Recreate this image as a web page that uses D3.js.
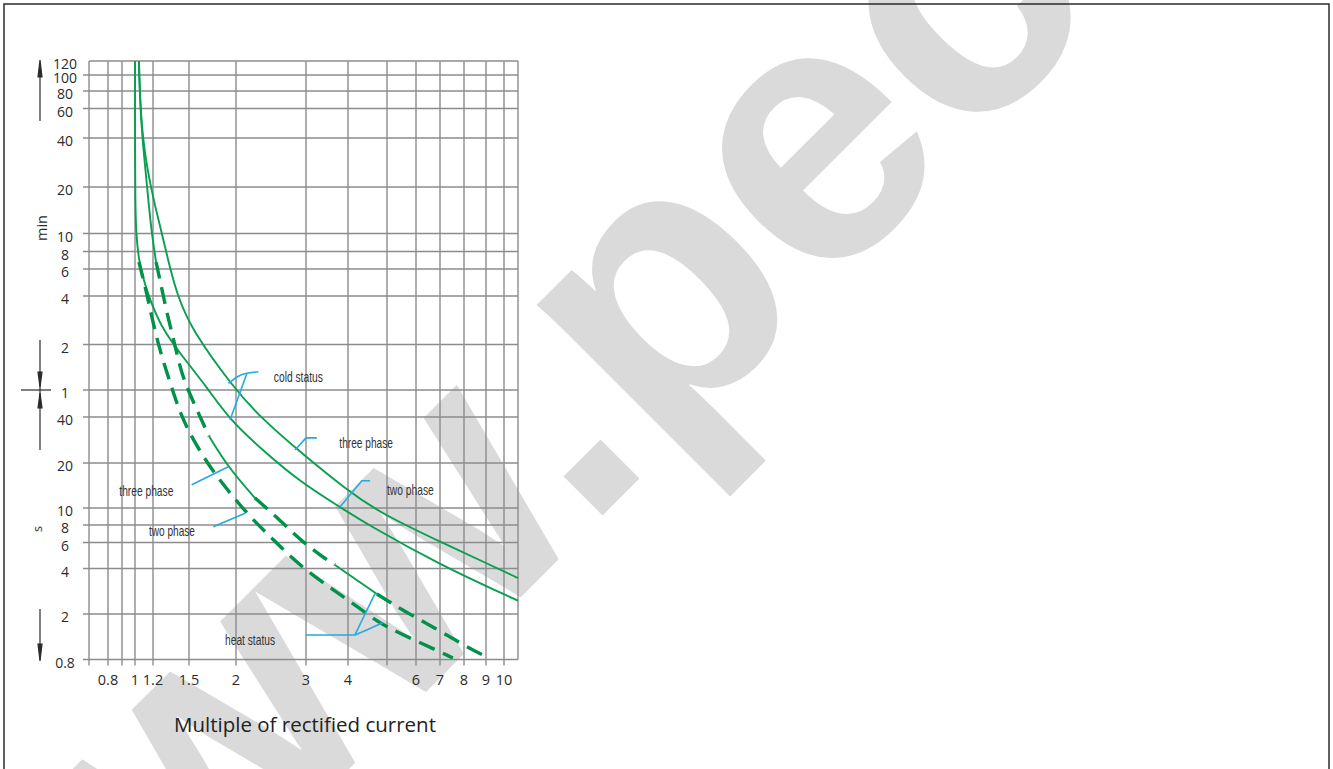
<!DOCTYPE html>
<html>
<head>
<meta charset="utf-8">
<script src="https://cdn.jsdelivr.net/npm/d3@7"></script>
<style>
  body { margin: 0; background: #fff; }
  svg { display: block; }
</style>
</head>
<body>
<svg id="chart" width="1333" height="769"></svg>
<script>
// grid values of the two log axes: multiple of rated current, time in seconds
const xGrid = [0.7, 0.8, 0.9, 1, 1.2, 1.5, 2, 3, 4, 5, 6, 7, 8, 9, 10, 11];
const xLabels = [0.8, 1, 1.2, 1.5, 2, 3, 4, 6, 7, 8, 9, 10];
const yGrid = [0.8, 2, 4, 6, 8, 10, 20, 40, 60, 120, 240, 360, 480, 600, 1200, 2400, 3600, 4800, 6000, 7200];

// trip curves, [multiple, seconds]
const coldThree = [[1.04, 7200], [1.052, 4100], [1.084, 2330], [1.135, 1530], [1.204, 990], [1.267, 606],
  [1.333, 366], [1.401, 237], [1.525, 148], [1.963, 62.8], [2.30, 40], [2.90, 23.6], [3.97, 13.2],
  [4.80, 9.37], [7.28, 5.77], [9.0, 4.36], [11, 3.46]];
const coldTwo = [[1.0, 7200], [1.0, 2025], [1.003, 990], [1.01, 606], [1.041, 404], [1.107, 283],
  [1.188, 211], [1.277, 148], [1.418, 105], [1.672, 62.8], [1.928, 38.2], [2.30, 25.1], [2.90, 14.9],
  [3.79, 10.15], [4.45, 8.1], [7.0, 4.23], [11, 2.45]];
const heatTwo = [[1.041, 404], [1.07, 339], [1.126, 251], [1.2, 163], [1.267, 99], [1.347, 62.8],
  [1.418, 42.5], [1.537, 28.3], [1.724, 18.0], [1.928, 12.6], [2.17, 8.89], [2.46, 6.46], [2.76, 4.71],
  [3.19, 3.51], [3.66, 2.84], [4.24, 2.22], [4.85, 1.60], [6.03, 1.16], [7.52, 0.825]];
const heatThree = [[1.041, 7200], [1.052, 4100], [1.079, 2330], [1.112, 1530], [1.144, 990], [1.184, 606],
  [1.223, 404], [1.253, 305], [1.306, 191], [1.375, 119], [1.434, 75.4], [1.54, 50.1], [1.695, 30.0],
  [1.904, 18.8], [2.23, 11.7], [2.58, 8.54], [2.93, 6.08], [3.46, 4.57], [3.66, 4.23], [4.72, 2.71],
  [5.60, 2.07], [6.78, 1.51], [7.9, 1.09], [9.04, 0.84]];

// annotation labels and their leader lines, also in [multiple, seconds]
const labelText = ["cold status", "three phase", "two phase", "three phase", "two phase", "heat status"];
const labelAt = [[2.49, 67.8], [3.77, 24.9], [5.0, 12.3], [0.88, 12.0], [1.152, 6.68], [1.87, 1.08]];
const leaders = [
  [[1.908, 66.4], [2.023, 73.7], [2.128, 77.4], [2.276, 79.3]],
  [[2.128, 76.5], [1.928, 38.2]],
  [[2.815, 24.3], [3.0, 29.2], [3.23, 29.2]],
  [[3.79, 10.2], [4.33, 15.2], [4.54, 15.2]],
  [[1.525, 14.3], [1.908, 18.9]],
  [[1.74, 7.78], [2.107, 9.33]],
  [[3.0, 1.31], [4.16, 1.31], [4.67, 2.74]],
  [[4.16, 1.31], [4.45, 1.45], [4.88, 1.68]]
];

// ---- layout ----
const svg = d3.select("#chart");
const plot = { left: 89, top: 61, right: 518, bottom: 659.5 };
// hand drawn axes are not quite logarithmic: pixel offset of each grid value
const xPos = [0, 19, 33, 46, 64, 100, 147, 217, 259, 298, 327, 351, 375, 397, 415, 429];
const yPos = [598.5, 553, 507.5, 481.5, 464, 447, 402, 356, 329, 283.5, 235, 208, 190.5, 172.5, 126, 77, 47.5, 30, 14, 0];

const xs = d3.scaleLinear().domain(xGrid.map(Math.log)).range(xPos.map(p => plot.left + p));
const ys = d3.scaleLinear().domain(yGrid.map(Math.log)).range(yPos.map(p => plot.top + p));
const X = v => xs(Math.log(v));
const Y = v => ys(Math.log(v));

const green = "#06a04f", greenDark = "#00924a", blue = "#27a9e1", gridCol = "#8c8c8c", ink = "#2b2b2b";

// watermark behind everything
svg.append("text")
  .attr("transform", "translate(-16,1134) rotate(-45)")
  .attr("font-family", "Liberation Sans, Arial, sans-serif")
  .attr("font-weight", "bold")
  .attr("font-size", 370)
  .attr("fill", "#dadada")
  .text("www.pec");

// outer frame
svg.append("rect")
  .attr("x", 4).attr("y", 4).attr("width", 1325).attr("height", 775)
  .attr("fill", "none").attr("stroke", ink).attr("stroke-width", 1.5);

// grid
const grid = svg.append("g").attr("stroke", gridCol).attr("stroke-width", 1.4);
grid.selectAll(".v").data(xGrid).join("line")
  .attr("x1", d => X(d)).attr("x2", d => X(d))
  .attr("y1", plot.top).attr("y2", (d, i) => i === xGrid.length - 1 ? plot.bottom : plot.bottom + 6);
grid.selectAll(".h").data(yGrid).join("line")
  .attr("y1", d => Y(d)).attr("y2", d => Y(d))
  .attr("x1", (d, i) => i === yGrid.length - 1 ? plot.left : plot.left - 6).attr("x2", plot.right);

// tick labels
const tickFont = "Open Sans, Noto Sans, sans-serif";
svg.append("g").selectAll("text").data(yGrid).join("text")
  .attr("x", 65).attr("y", d => Y(d) + 8)
  .attr("text-anchor", "middle")
  .attr("font-family", tickFont).attr("font-size", 14).attr("fill", ink)
  .text(d => d < 60 ? d : d / 60);
svg.append("g").selectAll("text").data(xLabels).join("text")
  .attr("x", d => X(d)).attr("y", 685)
  .attr("text-anchor", "middle")
  .attr("font-family", tickFont).attr("font-size", 14.5).attr("fill", ink)
  .text(d => d);

// unit marks with arrows on the left
const arrows = svg.append("g").attr("stroke", ink).attr("fill", ink).attr("stroke-width", 1.2);
arrows.append("line").attr("x1", 40).attr("x2", 40).attr("y1", 75).attr("y2", 121);
arrows.append("path").attr("d", "M40,60 L38,77 L42,77 Z");
arrows.append("line").attr("x1", 40).attr("x2", 40).attr("y1", 340).attr("y2", 450);
arrows.append("line").attr("x1", 21).attr("x2", 51).attr("y1", 390).attr("y2", 390);
arrows.append("path").attr("d", "M40,387 L38,372 L42,372 Z");
arrows.append("path").attr("d", "M40,393 L38,408 L42,408 Z");
arrows.append("line").attr("x1", 40).attr("x2", 40).attr("y1", 609).attr("y2", 645);
arrows.append("path").attr("d", "M40,661 L38,644 L42,644 Z");

svg.append("text").attr("transform", "translate(46.5,228) rotate(-90)")
  .attr("text-anchor", "middle").attr("font-family", tickFont).attr("font-size", 14.5).attr("fill", ink)
  .text("min");
svg.append("text").attr("transform", "translate(42,529) rotate(-90)")
  .attr("text-anchor", "middle").attr("font-family", tickFont).attr("font-size", 12.5).attr("fill", ink)
  .text("s");

// curves
const line = d3.line().x(d => X(d[0])).y(d => Y(d[1])).curve(d3.curveBasis);
const curves = svg.append("g").attr("fill", "none").attr("stroke-linecap", "butt");

function solid(pts) {
  curves.append("path").attr("d", line(pts))
    .attr("stroke", green).attr("stroke-width", 1.9);
}
function dashed(pts) {
  curves.append("path").attr("d", line(pts))
    .attr("stroke", greenDark).attr("stroke-width", 3.4).attr("stroke-dasharray", "17,9");
}

solid(coldThree);
solid(coldTwo);
dashed(heatTwo);
// the three phase heat curve switches between thin solid and dashed pieces
[[0, 6, "s"], [6, 12, "d"], [12, 14, "s"], [14, 18, "d"], [18, 19, "s"], [19, 23, "d"]].forEach(([a, b, k]) => {
  const part = heatThree.slice(a, b + 1);
  if (k === "s") solid(part); else dashed(part);
});

// leaders and labels
const leader = d3.line().x(d => X(d[0])).y(d => Y(d[1]));
svg.append("g").selectAll("path").data(leaders).join("path")
  .attr("d", (d, i) => i === 0 || i === 7 ? leader.curve(d3.curveNatural)(d) : leader.curve(d3.curveLinear)(d))
  .attr("fill", "none").attr("stroke", blue).attr("stroke-width", 1.6);

const labelWidth = [49, 53.5, 46.7, 54, 46, 50];
svg.append("g").selectAll("text").data(labelText).join("text")
  .attr("x", (d, i) => X(labelAt[i][0])).attr("y", (d, i) => Y(labelAt[i][1]))
  .attr("font-family", "Liberation Sans Narrow, Arial Narrow, Liberation Sans, sans-serif")
  .attr("font-size", 14.5).attr("fill", "#333")
  .attr("textLength", (d, i) => labelWidth[i]).attr("lengthAdjust", "spacingAndGlyphs")
  .text(d => d);

// axis title
svg.append("text")
  .attr("x", 305).attr("y", 732).attr("text-anchor", "middle")
  .attr("font-family", tickFont).attr("font-size", 19.5).attr("fill", "#222")
  .attr("textLength", 262).attr("lengthAdjust", "spacingAndGlyphs")
  .text("Multiple of rectified current");
</script>
</body>
</html>
